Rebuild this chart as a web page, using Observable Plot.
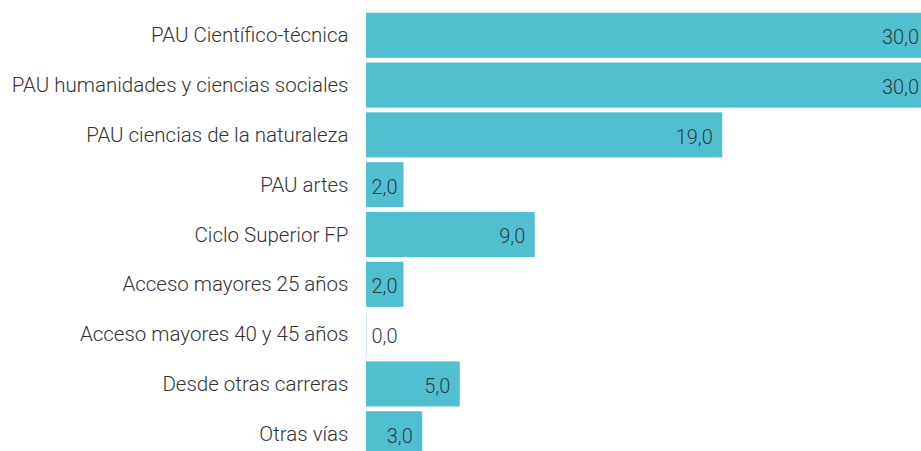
<!DOCTYPE html>
<html><head><meta charset="utf-8">
<script src="https://cdn.jsdelivr.net/npm/d3@7"></script>
<script src="https://cdn.jsdelivr.net/npm/@observablehq/plot@0.6"></script>
<style>html,body{margin:0;padding:0;overflow:hidden;background:#fff}</style>
</head><body><div id="chart"></div>
<script>
const categories = ["PAU Científico-técnica","PAU humanidades y ciencias sociales","PAU ciencias de la naturaleza","PAU artes","Ciclo Superior FP","Acceso mayores 25 años","Acceso mayores 40 y 45 años","Desde otras carreras","Otras vías"];
const values = [30,30,19,2,9,2,0,5,3];
const data = categories.map((c,i)=>({cat:c, v:values[i]}));
const fmt = v => v.toFixed(1).replace(".", ",");
const color = "#52bfd1";
const chart = Plot.plot({
  width: 921, height: 461,
  marginLeft: 366, marginRight: 0, marginTop: 8, marginBottom: 0,
  style: {fontFamily: "Roboto, sans-serif", fontSize: "20px", color: "#333", overflow: "hidden"},
  x: {domain: [0, 29.6], axis: null},
  y: {domain: categories, padding: 0.095, round: false, label: null},
  marks: [
    Plot.axisY({tickSize: 0, tickPadding: 18, fontSize: 20.5, fill: "#333", fontWeight: 300}),
    Plot.barX(data, {x: "v", y: "cat", fill: color}),
    Plot.tickX(data.filter(d => d.v === 0), {x: "v", y: "cat", stroke: color, strokeOpacity: 0.3}),
    Plot.text(data.filter(d => d.v >= 3), {x: "v", y: "cat", text: d => fmt(d.v), textAnchor: "end", dx: -10, dy: 2, fill: "#2b3a3e", fontSize: 20, fontWeight: 300}),
    Plot.text(data.filter(d => d.v < 3), {x: 0, y: "cat", text: d => fmt(d.v), textAnchor: "start", dx: 5, dy: 2, fill: "#2b3a3e", fontSize: 20, fontWeight: 300})
  ]
});
document.getElementById("chart").appendChild(chart);
</script></body></html>
